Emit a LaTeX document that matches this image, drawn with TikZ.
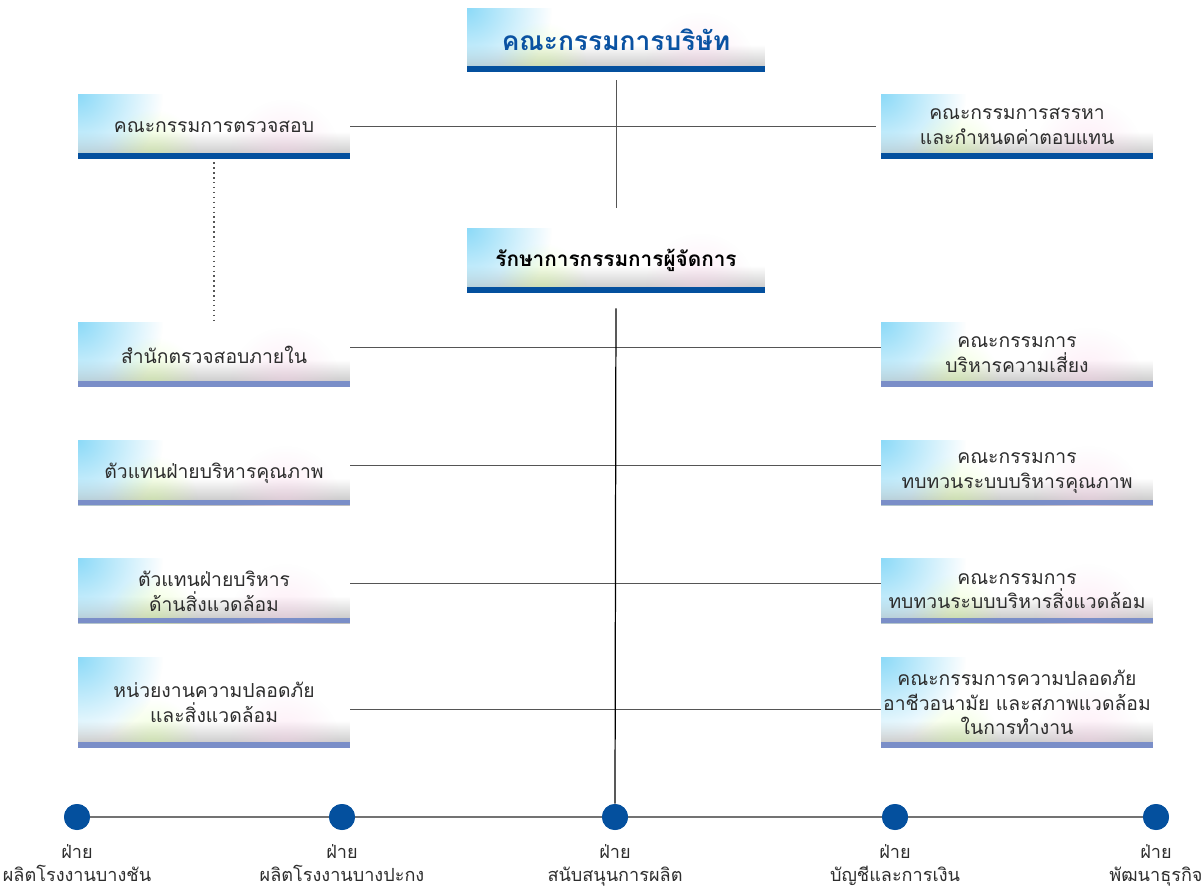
\documentclass[tikz,border=0pt]{standalone}
\usepackage{fontspec}
\setmainfont[Script=Thai]{Loma}
\usetikzlibrary{fadings}
\definecolor{barblue}{RGB}{4,80,158}
\definecolor{barlight}{RGB}{122,142,200}
\definecolor{titleblue}{RGB}{10,82,162}
\definecolor{linegray}{RGB}{85,85,85}
\definecolor{textgray}{RGB}{45,45,45}
\tikzfading[name=cornerfade, inner color=transparent!0, outer color=transparent!100]
\tikzset{
  orgbox/.style={minimum width=5.44cm, minimum height=1.3cm, align=center, inner sep=0pt,
    font=\fontsize{11}{14}\selectfont, text=textgray,
    path picture={
      \fill[white] (path picture bounding box.north west) rectangle (path picture bounding box.south east);
      \shade[top color=white, bottom color=black!25]
        ([yshift=0.55cm]path picture bounding box.south west) rectangle (path picture bounding box.south east);
      \fill[cyan!45, path fading=cornerfade] (path picture bounding box.north west) circle (1.7cm);
      \fill[green!40!yellow!50, opacity=0.35, path fading=cornerfade] ([xshift=1.5cm,yshift=0.1cm]path picture bounding box.south west) circle (0.9cm);
      \fill[magenta!20, opacity=0.4, path fading=cornerfade] ([xshift=-1.3cm,yshift=0.1cm]path picture bounding box.south east) circle (1.1cm);
      \fill[#1] (path picture bounding box.south west) rectangle ([yshift=0.11cm]path picture bounding box.south east);
    }},
  orgbox/.default=barlight,
  dept/.style={circle, fill=barblue, minimum size=0.52cm, inner sep=0pt},
  deptlabel/.style={align=center, text=textgray, font=\fontsize{10.3}{13.4}\selectfont}
}
\begin{document}
\begin{tikzpicture}[x=0.02cm,y=-0.02cm]
\useasboundingbox (0,0) rectangle (1203,888);
% top of the chart
\node[orgbox=barblue, minimum width=5.96cm, minimum height=1.28cm,
  font=\fontsize{15}{18}\selectfont\bfseries, text=titleblue] (board) at (616,40) {คณะกรรมการบริษัท};
\node[orgbox=barblue] (audit) at (214,126.5) {คณะกรรมการตรวจสอบ};
\node[orgbox=barblue] (nomination) at (1017,126.5) {คณะกรรมการสรรหา\\และกำหนดค่าตอบแทน};
\node[orgbox=barblue, minimum width=5.96cm,
  font=\fontsize{11.8}{16}\selectfont\bfseries, text=black] (md) at (616,260.5) {รักษาการกรรมการผู้จัดการ};
% left side
\node[orgbox] (internal) at (214,354.5) {สำนักตรวจสอบภายใน};
\node[orgbox] (qmr) at (214,473) {ตัวแทนฝ่ายบริหารคุณภาพ};
\node[orgbox] (envrep) at (214,591) {ตัวแทนฝ่ายบริหาร\\ด้านสิ่งแวดล้อม};
\node[orgbox, minimum height=1.82cm] (safety) at (214,702.5) {หน่วยงานความปลอดภัย\\และสิ่งแวดล้อม};
% right side
\node[orgbox] (risk) at (1017,354.5) {คณะกรรมการ\\บริหารความเสี่ยง};
\node[orgbox] (qms) at (1017,473) {คณะกรรมการ\\ทบทวนระบบบริหารคุณภาพ};
\node[orgbox] (ems) at (1017,591) {คณะกรรมการ\\ทบทวนระบบบริหารสิ่งแวดล้อม};
\node[orgbox, minimum height=1.82cm] (ohs) at (1017,702.5) {คณะกรรมการความปลอดภัย\\อาชีวอนามัย และสภาพแวดล้อม\\ในการทำงาน};
% departments
\foreach \n/\x in {1/77,2/342,3/615,4/895,5/1156}
\node[dept] (d\n) at (\x,817) {};
\draw[black!55, semithick] (d1) -- (d5);
\foreach \n/\x in {1/77,2/342,3/615,4/895,5/1156}
\node[dept] at (\x,817) {};
\node[deptlabel, below=0.15cm] (l1) at (d1.south) {ฝ่าย\\ผลิตโรงงานบางชัน};
\node[deptlabel, below=0.15cm] (l2) at (d2.south) {ฝ่าย\\ผลิตโรงงานบางปะกง};
\node[deptlabel, below=0.15cm] (l3) at (d3.south) {ฝ่าย\\สนับสนุนการผลิต};
\node[deptlabel, below=0.15cm] (l4) at (d4.south) {ฝ่าย\\บัญชีและการเงิน};
\node[deptlabel, below=0.15cm] (l5) at (d5.south) {ฝ่าย\\พัฒนาธุรกิจ};
% lines
\draw[linegray, shorten <=0.16cm, shorten >=0.4cm] (board.south) -- (md.north);
\draw[linegray] (audit.east) -- ([xshift=-0.1cm]nomination.west);
\draw[linegray, dotted, thick, shorten <=0.06cm] (audit.south) -- (internal.north);
\draw[linegray] ([yshift=0.15cm]internal.east) -- ([yshift=0.15cm]risk.west);
\draw[linegray] ([yshift=0.16cm]qmr.east) -- ([yshift=0.16cm]qms.west);
\draw[linegray] ([yshift=0.16cm]envrep.east) -- ([yshift=0.16cm]ems.west);
\draw[linegray] ([yshift=-0.13cm]safety.east) -- ([yshift=-0.13cm]ohs.west);
\draw[black, line width=0.7pt, shorten <=0.3cm] (md.south) -- (d3.north);
\end{tikzpicture}
\end{document}
